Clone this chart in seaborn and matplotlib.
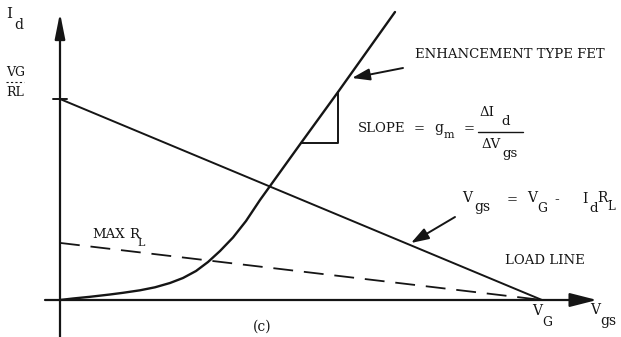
import matplotlib
matplotlib.use("Agg")
import matplotlib.pyplot as plt
import pandas as pd
import seaborn as sns

# Drain current of the enhancement FET versus gate-source voltage
# (Vgs scaled so that V_G = 10, Id scaled so that V_G / R_L = 10)
fet_vgs = [0.0, 0.270, 0.622, 1.037, 1.307, 1.660, 1.971, 2.282, 2.552,
           2.822, 3.071, 3.320, 3.589, 3.859, 4.149, 5.000, 5.768, 6.950]
fet_id = [0.0, 0.075, 0.159, 0.274, 0.358, 0.483, 0.632, 0.846, 1.095,
          1.443, 1.891, 2.438, 3.109, 3.930, 4.975, 7.811, 10.348, 14.328]

# Load line: Vgs = V_G - Id * R_L
load_vgs = [0.0, 10.0]
load_id = [10.0, 0.0]

# Load line for the largest usable R_L
maxrl_vgs = [0.0, 10.0]
maxrl_id = [2.84, 0.0]

W, H = 621, 337
INK = "#151515"
FONT = ["DejaVu Serif"]

sns.set_theme(style="white")
plt.rcParams["font.family"] = FONT

fig = plt.figure(figsize=(W / 100, H / 100), dpi=100)
ax = fig.add_axes([0, 0, 1, 1])
ax.set_xlim(-60 / 48.2, (W - 60) / 48.2)
ax.set_ylim((300 - H) / 20.1, 300 / 20.1)
ax.axis("off")

fet = pd.DataFrame({"Vgs": fet_vgs, "Id": fet_id})
load = pd.DataFrame({"Vgs": load_vgs, "Id": load_id})
maxrl = pd.DataFrame({"Vgs": maxrl_vgs, "Id": maxrl_id})

sns.lineplot(data=fet, x="Vgs", y="Id", ax=ax, color=INK, lw=1.7, sort=False)
sns.lineplot(data=load, x="Vgs", y="Id", ax=ax, color=INK, lw=1.4)
sns.lineplot(data=maxrl, x="Vgs", y="Id", ax=ax, color=INK, lw=1.3,
             linestyle=(0, (11, 6)))

# slope triangle under the steep part of the characteristic
i0, i1 = 15, 16
ax.plot([fet_vgs[i0], fet_vgs[i1], fet_vgs[i1]],
        [fet_id[i0], fet_id[i0], fet_id[i1]], color=INK, lw=1.4)


def px(x, y):
    return x / W, 1 - y / H


def label(x, y, s, size=10, ha="left"):
    ax.text(*px(x, y), s, transform=ax.transAxes, fontsize=size,
            ha=ha, va="center", color=INK, family=FONT)


def arrow(x0, y0, x1, y1, lw=1.4, hl=0.9, hw=0.3, ms=12):
    ax.annotate("", xy=px(x1, y1), xycoords="axes fraction",
                xytext=px(x0, y0), textcoords="axes fraction",
                arrowprops=dict(arrowstyle=f"-|>,head_length={hl},head_width={hw}",
                                lw=lw, color=INK, mutation_scale=ms,
                                shrinkA=0, shrinkB=0))


# axes with arrowheads
arrow(45, 300, 597, 300, lw=1.6, hl=1.1, hw=0.28, ms=15)
arrow(60, 337, 60, 13, lw=1.6, hl=1.1, hw=0.22, ms=14)
# tick marking V_G / R_L on the Id axis
ax.plot([-0.15, 0.15], [10, 10], color=INK, lw=1.4)

# axis labels
label(6, 14, "I", 11)
label(14, 25, "d", 10)
label(6, 73, "VG", 9)
label(6, 92, "RL", 9)
ax.plot(*zip(px(6, 82), px(24, 82)), transform=ax.transAxes, color=INK,
        lw=0.8, linestyle=(0, (2, 2)))
label(532, 311, "V", 10)
label(542, 322, "G", 9)
label(590, 310, "V", 10)
label(600, 321, "gs", 10)
label(262, 327, "(c)", 10, ha="center")

# device annotation
label(415, 54, "ENHANCEMENT TYPE FET", 9.5)
arrow(403, 68, 352, 78)

# slope expression
label(358, 129, "SLOPE", 9.5)
label(414, 129, "=", 9.5)
label(434, 128, "g", 10)
label(444, 135, "m", 8)
label(464, 129, "=", 9.5)
label(480, 113, "ΔI", 9.5)
label(501, 121, "d", 9.5)
ax.plot(*zip(px(478, 132), px(523, 132)), transform=ax.transAxes,
        color=INK, lw=1.0)
label(481, 144, "ΔV", 9.5)
label(502, 154, "gs", 9.5)

# load-line equation
label(462, 198, "V", 10)
label(474, 207, "gs", 10)
label(507, 200, "=", 9.5)
label(527, 198, "V", 10)
label(537, 209, "G", 9)
label(554, 200, "-", 10)
label(582, 199, "I", 10)
label(589, 209, "d", 9.5)
label(597, 198, "R", 10)
label(607, 207, "L", 8.5)
arrow(455, 217, 411, 243)

label(505, 260, "LOAD LINE", 9.5)

label(92, 235, "MAX", 9.5)
label(129, 235, "R", 9.5)
label(137, 243, "L", 8)

fig.savefig("out.png", dpi=100, facecolor="white")
